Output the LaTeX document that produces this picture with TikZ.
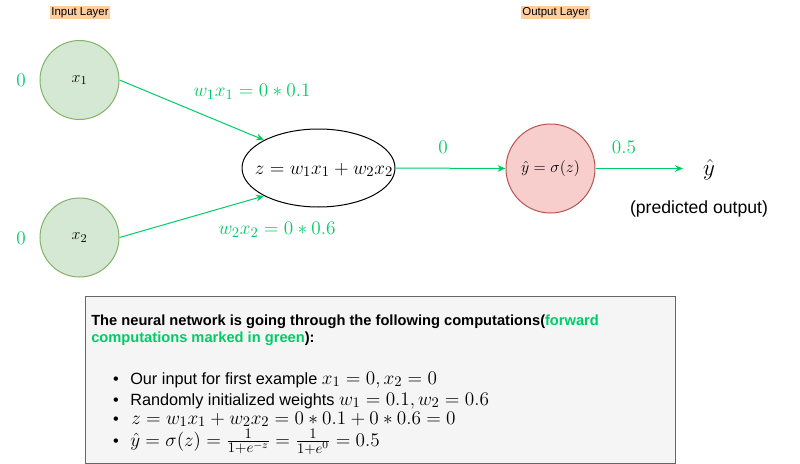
\documentclass[tikz,border=0pt]{standalone}
\usepackage{fontspec}
\setsansfont{Liberation Sans}
\usetikzlibrary{shapes.geometric,arrows.meta}

\definecolor{fwdgreen}{HTML}{00CC66}
\definecolor{inpfill}{HTML}{D5E8D4}
\definecolor{inpline}{HTML}{82B366}
\definecolor{outfill}{HTML}{F8CECC}
\definecolor{outline}{HTML}{B85450}
\definecolor{layerbg}{HTML}{FFCE9F}
\definecolor{boxfill}{HTML}{F5F5F5}
\definecolor{boxline}{HTML}{666666}

\begin{document}
\begin{tikzpicture}[x=0.75pt,y=-0.75pt,
  inp/.style={circle,draw=inpline,fill=inpfill,line width=0.75pt,minimum size=59.25pt,inner sep=0pt,font=\fontsize{13}{15}\selectfont},
  outp/.style={circle,draw=outline,fill=outfill,line width=0.75pt,minimum size=66.75pt,inner sep=0pt,font=\fontsize{12.8}{15}\selectfont},
  sumnode/.style={ellipse,draw,line width=0.75pt,minimum width=114.75pt,minimum height=58.5pt,inner sep=0pt},
  layer/.style={fill=layerbg,inner sep=1pt,font=\sffamily\fontsize{8.6}{10}\selectfont},
  val/.style={text=fwdgreen,inner sep=0pt,font=\fontsize{15.5}{18}\selectfont},
  fwd/.style={draw=fwdgreen,line width=0.75pt,-{Stealth[length=6pt,width=5pt]}},
  notebox/.style={draw=boxline,fill=boxfill,line width=0.9pt,minimum width=442.5pt,minimum height=125.25pt,inner sep=0pt},
  txt/.style={inner sep=0pt,anchor=base west},
  mth/.style={font=\fontsize{15.2}{18}\selectfont}]
\useasboundingbox (0,0) rectangle (800,464);

% layers
\node[layer] (inlayer) at (80,12.5) {Input Layer};
\node[layer] (outlayer) at (555.5,12.5) {Output Layer};

% network
\node[inp] (x1) at (79.5,80) {$x_1$};
\node[inp] (x2) at (79.5,237.5) {$x_2$};
\node[sumnode] (sum) at (318.5,168) {};
\node[inner sep=0pt,font=\fontsize{15.5}{18}\selectfont] (sumtext) at (324,170) {$z = w_1x_1 + w_2x_2$};
\node[outp] (out) at (550.5,168.5) {$\hat{y} = \sigma(z)$};
\coordinate (yend) at (683,168.5);

\node[val] (v1) at (21,80) {$0$};
\node[val] (v2) at (21,238) {$0$};
\node[val] (w1) at (252,92) {$w_1x_1 = 0 * 0.1$};
\node[val] (w2) at (277,230) {$w_2x_2 = 0 * 0.6$};
\node[val] (zval) at (443,147) {$0$};
\node[val] (yval) at (624,147) {$0.5$};

\draw[fwd] (x1.east) -- (sum.north west);
\draw[fwd] (x2.east) -- (sum.south west);
\draw[fwd] (sum.east) -- (out.west);
\draw[fwd] (out.east) -- (yend);

\node[inner sep=0pt,font=\fontsize{16}{18}\selectfont] (yhat) at (709,170) {$\hat{y}$};
\node[inner sep=0pt,font=\sffamily\fontsize{13.2}{16}\selectfont] (pred) at (699,209) {(predicted output)};

% computations
\node[notebox,anchor=north west] (note) at (85,296) {};
\node[txt,font=\sffamily\bfseries\fontsize{11}{13}\selectfont] (head1) at (91,325)
  {The neural network is going through the following computations(\textcolor{fwdgreen}{forward}};
\node[txt,font=\sffamily\bfseries\fontsize{11}{13}\selectfont] (head2) at (91,342)
  {\textcolor{fwdgreen}{computations marked in green}):};

\sffamily\fontsize{12.2}{14}\selectfont
\node[inner sep=0pt,anchor=base] (b1) at (116,384) {\textbullet};
\node[inner sep=0pt,anchor=base] (b2) at (116,405) {\textbullet};
\node[inner sep=0pt,anchor=base] (b3) at (116,424) {\textbullet};
\node[inner sep=0pt,anchor=base] (b4) at (116,446) {\textbullet};

\node[txt] (l1) at (130,384) {Our input for first example {\fontsize{15.2}{18}\selectfont$x_1 = 0, x_2 = 0$}};
\node[txt] (l2) at (130,405) {Randomly initialized weights {\fontsize{15.2}{18}\selectfont$w_1 = 0.1, w_2 = 0.6$}};
\node[txt,mth] (l3) at (131,424) {$z = w_1x_1 + w_2x_2 = 0 * 0.1 + 0 * 0.6 = 0$};
\node[txt,mth] (l4) at (130,446) {$\hat{y} = \sigma(z) = \frac{1}{1+e^{-z}} = \frac{1}{1+e^{0}} = 0.5$};
\end{tikzpicture}
\end{document}
